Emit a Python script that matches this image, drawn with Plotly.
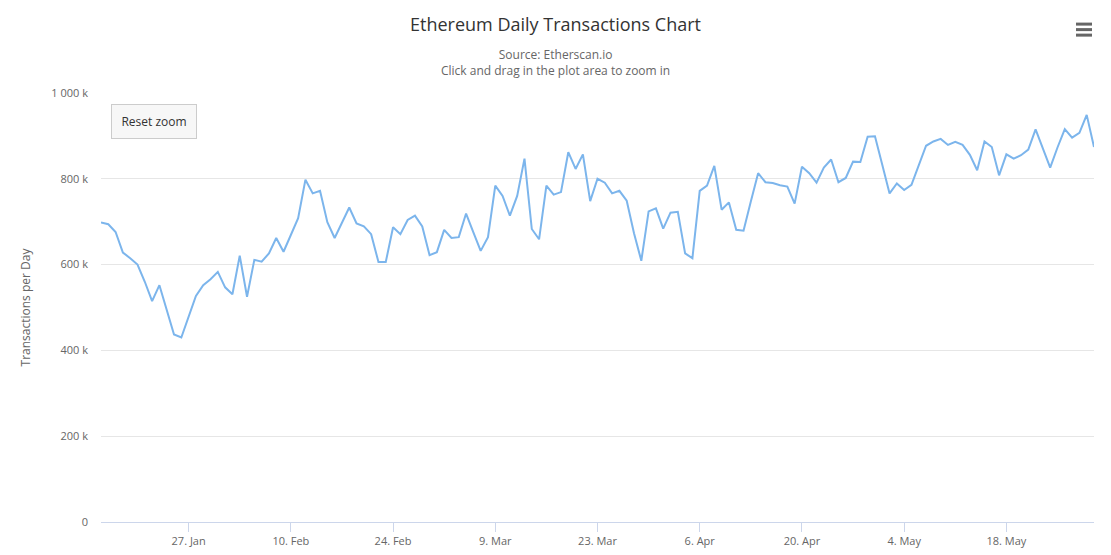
import pandas as pd
import plotly.graph_objects as go

# daily transaction counts, 15 Jan 2020 .. 30 May 2020
start_date = '2020-01-15'
tx_per_day = [
    698, 694, 676, 628, 615, 600, 560, 515, 552, 496,
    437, 430, 479, 527, 552, 566, 583, 547, 531, 621,
    525, 611, 607, 626, 662, 630, 669, 708, 798, 766,
    772, 699, 662, 698, 733, 696, 689, 671, 606, 606,
    687, 671, 704, 714, 689, 622, 629, 681, 662, 664,
    719, 675, 632, 664, 784, 760, 714, 760, 847, 683,
    659, 784, 763, 769, 862, 823, 857, 748, 800, 791,
    766, 772, 749, 673, 609, 724, 731, 684, 721, 723,
    626, 615, 772, 784, 830, 728, 745, 681, 679, 747,
    813, 792, 790, 785, 782, 742, 828, 813, 791, 826,
    845, 792, 802, 840, 839, 898, 899, 833, 766, 789,
    774, 786, 832, 877, 887, 893, 879, 886, 879, 856,
    820, 887, 874, 808, 857, 847, 855, 868, 915, 869,
    826, 873, 916, 896, 907, 949, 874,
]

x_tick_dates = ['2020-01-27', '2020-02-10', '2020-02-24', '2020-03-09', '2020-03-23',
                '2020-04-06', '2020-04-20', '2020-05-04', '2020-05-18']
x_tick_labels = ['27. Jan', '10. Feb', '24. Feb', '9. Mar', '23. Mar',
                 '6. Apr', '20. Apr', '4. May', '18. May']
y_tick_vals = [0, 200000, 400000, 600000, 800000, 1000000]
y_tick_labels = ['0', '200 k', '400 k', '600 k', '800 k', '1 000 k']

dates = pd.date_range(start_date, periods=len(tx_per_day), freq='D')
values = [v * 1000 for v in tx_per_day]

FONT = 'Open Sans'
GREY = '#666666'

fig = go.Figure()
fig.add_trace(go.Scatter(x=dates, y=values, mode='lines',
                         line=dict(color='#7cb5ec', width=2),
                         hoverinfo='x+y', showlegend=False))

fig.update_layout(
    width=1111, height=555,
    margin=dict(l=101, r=17, t=93, b=33),
    paper_bgcolor='white', plot_bgcolor='white',
    font=dict(family=FONT, color=GREY, size=11),
    title=dict(text='Ethereum Daily Transactions Chart', x=0.5, xref='container',
               xanchor='center', y=1 - 25 / 555, yanchor='middle',
               font=dict(size=18, color='#333333', family=FONT)),
)

fig.update_xaxes(
    range=[dates[0], dates[-1]], automargin=False,
    tickvals=pd.to_datetime(x_tick_dates), ticktext=x_tick_labels,
    showgrid=False, showline=True, linecolor='#ccd6eb', linewidth=1,
    ticks='outside', ticklen=9, tickcolor='#ccd6eb',
    tickfont=dict(size=11, color=GREY), zeroline=False,
)
fig.update_yaxes(
    range=[0, 1000000], automargin=False,
    tickvals=y_tick_vals, ticktext=y_tick_labels,
    showgrid=True, gridcolor='#e6e6e6', zeroline=False, showline=False,
    ticks='', ticklabelstandoff=12,
    tickfont=dict(size=11, color=GREY),
    title=dict(text='Transactions per Day', font=dict(size=12, color=GREY), standoff=18),
)

# subtitle lines
fig.add_annotation(text='Source: Etherscan.io<br>Click and drag in the plot area to zoom in',
                   xref='paper', yref='paper', x=(555 - 101) / 993, y=1 + (93.3 - 63) / 428.4,
                   xanchor='center', yanchor='middle', showarrow=False,
                   font=dict(size=12, color=GREY, family=FONT), align='center')

# reset zoom button
fig.add_annotation(text='Reset zoom', xref='paper', yref='paper',
                   x=(111 - 101) / 993, y=1 - (104 - 93.3) / 428.4,
                   xanchor='left', yanchor='top', showarrow=False,
                   font=dict(size=12, color='#333333', family=FONT),
                   bgcolor='#f7f7f7', bordercolor='#cccccc', borderwidth=1,
                   borderpad=8, width=68, height=17)

# export menu icon (hamburger)
for py in (24.5, 30, 35.5):
    fig.add_shape(type='line', xref='paper', yref='paper',
                  x0=(1076 - 101) / 993, x1=(1092 - 101) / 993,
                  y0=1 + (93.3 - py) / 428.4, y1=1 + (93.3 - py) / 428.4,
                  line=dict(color=GREY, width=3))

# drop the default page margin so the figure sits at the window's corner
fig.write_html('out.html', config={'displayModeBar': False},
               post_script="document.body.style.margin='0';")
